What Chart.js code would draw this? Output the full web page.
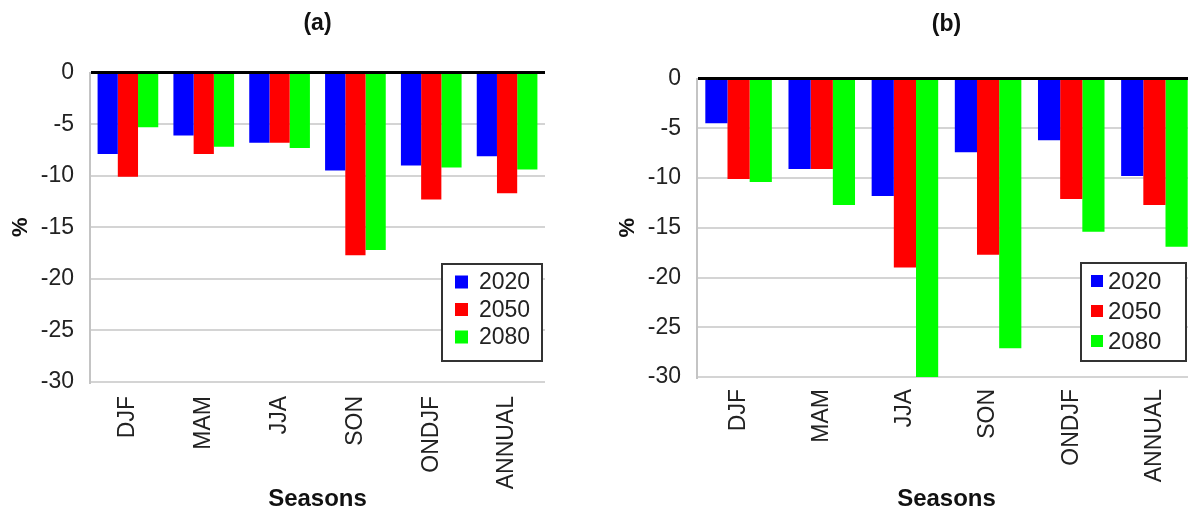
<!DOCTYPE html>
<html>
<head>
<meta charset="utf-8">
<script src="https://cdn.jsdelivr.net/npm/chart.js@4/dist/chart.umd.min.js"></script>
<style>
  html, body { margin: 0; padding: 0; background: #fff; overflow: hidden; width: 1188px; height: 515px; }
  .panel { position: absolute; top: 0; height: 515px; }
  #pa { left: 0; width: 635px; }
  #pb { left: 594px; width: 705px; }
</style>
</head>
<body>
<div class="panel" id="pa"><canvas id="ca"></canvas></div>
<div class="panel" id="pb"><canvas id="cb"></canvas></div>
<script>
// ---- data ----
const categories = ['DJF', 'MAM', 'JJA', 'SON', 'ONDJF', 'ANNUAL'];
const seriesNames = ['2020', '2050', '2080'];
const a2020 = [-7.9, -6.1, -6.8, -9.5, -9.0, -8.1];
const a2050 = [-10.1, -7.9, -6.8, -17.7, -12.3, -11.7];
const a2080 = [-5.3, -7.2, -7.3, -17.2, -9.2, -9.4];
const b2020 = [-4.5, -9.1, -11.8, -7.4, -6.2, -9.8];
const b2050 = [-10.1, -9.1, -19.0, -17.7, -12.1, -12.7];
const b2080 = [-10.4, -12.7, -30.0, -27.1, -15.4, -16.9];
const yTicks = [0, -5, -10, -15, -20, -25, -30];
const seriesColors = ['#0000ff', '#ff0000', '#00ff00'];

const FONT = "'Liberation Sans', Arial, sans-serif";

const boxLegend = {
  id: 'boxLegend',
  afterDraw(chart, args, o) {
    const ctx = chart.ctx;
    ctx.save();
    ctx.fillStyle = '#ffffff';
    ctx.fillRect(o.x, o.y, o.w, o.h);
    ctx.lineWidth = 2;
    ctx.strokeStyle = '#333333';
    ctx.strokeRect(o.x, o.y, o.w, o.h);
    ctx.font = o.fontSize + 'px ' + FONT;
    ctx.textBaseline = 'middle';
    ctx.textAlign = 'left';
    chart.data.datasets.forEach((ds, i) => {
      const cy = o.rowY[i];
      ctx.fillStyle = ds.backgroundColor;
      ctx.fillRect(o.sx, cy - o.s / 2, o.s, o.s);
      ctx.fillStyle = '#222222';
      ctx.fillText(ds.label, o.tx, cy + 1);
    });
    ctx.restore();
  }
};

function makeChart(id, values, cfg) {
  const datasets = values.map((v, i) => ({
    label: seriesNames[i],
    data: v,
    backgroundColor: seriesColors[i],
    borderWidth: 0,
    categoryPercentage: 0.8,
    barPercentage: 1.0
  }));
  return new Chart(document.getElementById(id), {
    type: 'bar',
    data: { labels: categories, datasets },
    plugins: [boxLegend],
    options: {
      responsive: true,
      maintainAspectRatio: false,
      animation: false,
      devicePixelRatio: 1,
      layout: { padding: { left: 0, right: cfg.padRight, top: 0, bottom: 0 } },
      plugins: {
        legend: { display: false },
        tooltip: { enabled: false },
        title: {
          display: true,
          fullSize: false,
          text: cfg.title,
          color: '#111111',
          font: { family: FONT, size: 23, weight: 'bold' },
          padding: { top: cfg.titleTop, bottom: cfg.titleBottom }
        },
        boxLegend: cfg.legend
      },
      scales: {
        x: {
          grid: { display: false, drawTicks: false },
          border: { display: false },
          ticks: {
            autoSkip: false, maxRotation: 90, minRotation: 90,
            padding: cfg.xPad,
            color: '#222222',
            font: { family: FONT, size: 23 }
          },
          title: {
            display: true, text: 'Seasons', color: '#111111',
            font: { family: FONT, size: 24, weight: 'bold' },
            padding: { top: 0, bottom: 1 }
          },
          afterFit(scale) { scale.height = cfg.xHeight; }
        },
        y: {
          min: yTicks[yTicks.length - 1],
          max: yTicks[0],
          afterBuildTicks(scale) { scale.ticks = yTicks.map(v => ({ value: v })); },
          grid: {
            drawTicks: false,
            color: c => c.tick && c.tick.value === 0 ? '#000000' : '#d4d4d4',
            lineWidth: c => c.tick && c.tick.value === 0 ? 3 : 2
          },
          border: { display: true, color: '#c4c4c4', width: 2 },
          ticks: {
            padding: cfg.yPad,
            color: '#222222',
            font: { family: FONT, size: 23 }
          },
          title: {
            display: true, text: '%', color: '#111111',
            font: { family: FONT, size: 22, weight: 'bold' },
            padding: { top: cfg.pctPad, bottom: 0 }
          },
          afterFit(scale) { scale.width = cfg.yWidth; }
        }
      }
    }
  });
}

makeChart('ca', [a2020, a2050, a2080], {
  title: '(a)', titleTop: 10, titleBottom: 35,
  padRight: 90, yWidth: 90, xHeight: 133, xPad: 14, yPad: 16, pctPad: 8,
  legend: { x: 442, y: 264, w: 100, h: 97, sx: 455, s: 13, tx: 479, rowY: [282, 309.5, 337], fontSize: 23 }
});

makeChart('cb', [b2020, b2050, b2080], {
  title: '(b)', titleTop: 11, titleBottom: 40,
  padRight: 103, yWidth: 103, xHeight: 138, xPad: 12, yPad: 16, pctPad: 21,
  legend: { x: 487, y: 263, w: 105, h: 98, sx: 497, s: 12, tx: 514, rowY: [281, 311, 341], fontSize: 24 }
});
</script>
</body>
</html>
